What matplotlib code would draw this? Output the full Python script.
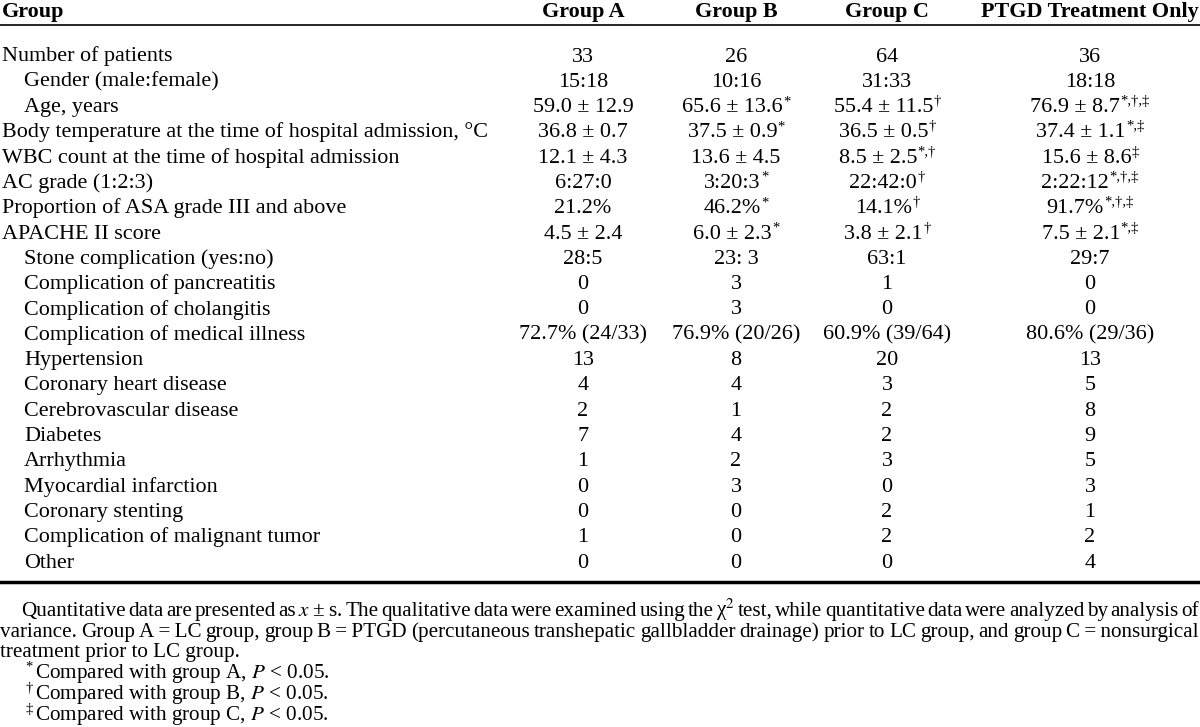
import matplotlib
matplotlib.use("Agg")
import matplotlib.pyplot as plt

plt.rcParams['font.family'] = ['Liberation Serif', 'DejaVu Serif']
plt.rcParams['mathtext.fontset'] = 'stix'

# Table content
columns = ["Group A", "Group B", "Group C", "PTGD Treatment Only"]
row_labels = [
    "Number of patients", "Gender (male:female)", "Age, years",
    "Body temperature at the time of hospital admission, °C",
    "WBC count at the time of hospital admission", "AC grade (1:2:3)",
    "Proportion of ASA grade III and above", "APACHE II score",
    "Stone complication (yes:no)", "Complication of pancreatitis",
    "Complication of cholangitis", "Complication of medical illness",
    "Hypertension", "Coronary heart disease", "Cerebrovascular disease",
    "Diabetes", "Arrhythmia", "Myocardial infarction", "Coronary stenting",
    "Complication of malignant tumor", "Other",
]
indented = [0, 1, 1, 0, 0, 0, 0, 0, 1, 1, 1, 1, 1, 1, 1, 1, 1, 1, 1, 1, 1]

group_a = ["33", "15:18", "59.0 ± 12.9", "36.8 ± 0.7", "12.1 ± 4.3", "6:27:0",
           "21.2%", "4.5 ± 2.4", "28:5", "0", "0", "72.7% (24/33)", "13", "4",
           "2", "7", "1", "0", "0", "1", "0"]
group_b = ["26", "10:16", "65.6 ± 13.6", "37.5 ± 0.9", "13.6 ± 4.5", "3:20:3",
           "46.2%", "6.0 ± 2.3", "23: 3", "3", "3", "76.9% (20/26)", "8", "4",
           "1", "4", "2", "3", "0", "0", "0"]
group_c = ["64", "31:33", "55.4 ± 11.5", "36.5 ± 0.5", "8.5 ± 2.5", "22:42:0",
           "14.1%", "3.8 ± 2.1", "63:1", "1", "0", "60.9% (39/64)", "20", "3",
           "2", "2", "3", "0", "2", "2", "0"]
ptgd_only = ["36", "18:18", "76.9 ± 8.7", "37.4 ± 1.1", "15.6 ± 8.6", "2:22:12",
             "91.7%", "7.5 ± 2.1", "29:7", "0", "0", "80.6% (29/36)", "13", "5",
             "8", "9", "5", "3", "1", "2", "4"]

# significance marks (row index -> marks)
marks_b = {2: "*", 3: "*", 5: "*", 6: "*", 7: "*"}
marks_c = {2: "†", 3: "†", 4: "*,†", 5: "†", 6: "†", 7: "†"}
marks_ptgd = {2: "*,†,‡", 3: "*,‡", 4: "‡", 5: "*,†,‡", 6: "*,†,‡", 7: "*,‡"}

note_line1 = ("Quantitative data are presented as $x$\u2009±\u2009s. The qualitative data were "
              "examined using the χ$^2$ test, while quantitative data were analyzed "
              "by analysis of").split(" ")
note_line2 = ("variance. Group A\u2009=\u2009LC group, group B\u2009=\u2009PTGD (percutaneous "
              "transhepatic gallbladder drainage) prior to LC group, and group "
              "C\u2009=\u2009nonsurgical").split(" ")
note_line3 = "treatment prior to LC group."
sig_notes = [("*", "Compared with group A, $P$ < 0.05."),
             ("†", "Compared with group B, $P$ < 0.05."),
             ("‡", "Compared with group C, $P$ < 0.05.")]

# Layout
W, H = 1200, 727
fig = plt.figure(figsize=(W / 100, H / 100), dpi=100)
ax = fig.add_axes([0, 0, 1, 1])
ax.set_xlim(0, W)
ax.set_ylim(H, 0)
ax.axis('off')

fs = 15.9
sfs = 10.5
col_x = [583, 736, 887, 1090]
base0, dy = 61.5, 25.3

fig.canvas.draw()
r = fig.canvas.get_renderer()
inv = ax.transData.inverted()


def width(t):
    bb = t.get_window_extent(renderer=r)
    return inv.transform((bb.x1, 0))[0] - inv.transform((bb.x0, 0))[0]


ax.text(2, 17, "Group", fontsize=fs, fontweight='bold', va='baseline', ha='left')
for x, c in zip(col_x, columns):
    ax.text(x, 17, c, fontsize=fs, fontweight='bold', va='baseline', ha='center')
ax.plot([0, W], [25, 25], color='black', lw=1.2)

cols = [(group_a, {}), (group_b, marks_b), (group_c, marks_c), (ptgd_only, marks_ptgd)]
for i, lab in enumerate(row_labels):
    y = base0 + i * dy
    ax.text(2 + 22 * indented[i], y, lab, fontsize=fs, va='baseline', ha='left')
    for x, (vals, marks) in zip(col_x, cols):
        t = ax.text(x, y, vals[i], fontsize=fs, va='baseline', ha='left')
        w = width(t)
        if i in marks:
            s = ax.text(0, y - 7, marks[i], fontsize=sfs, va='baseline', ha='left')
            ws = width(s)
            t.set_x(x - (w + ws) / 2)
            s.set_x(x - (w + ws) / 2 + w + 0.5)
        else:
            t.set_x(x - w / 2)

ax.plot([0, W], [582, 582], color='black', lw=2.5)

# footnotes, first two lines justified
fn = 15.2


def justify(words, x_left, x_right, y):
    ts = [ax.text(0, y, w, fontsize=fn, va='baseline', ha='left') for w in words]
    widths = [width(t) for t in ts]
    gap = (x_right - x_left - sum(widths)) / (len(words) - 1)
    x = x_left
    for t, w in zip(ts, widths):
        t.set_x(x)
        x += w + gap


justify(note_line1, 21, 1199, 616)
justify(note_line2, 0, 1199, 637)
ax.text(0, 657, note_line3, fontsize=fn, va='baseline', ha='left')
for k, (m, txt) in enumerate(sig_notes):
    y = 678 + k * 21
    ax.text(25, y - 7, m, fontsize=sfs, va='baseline', ha='left')
    ax.text(35, y, txt, fontsize=fn, va='baseline', ha='left')

fig.savefig("out.png", dpi=100)
